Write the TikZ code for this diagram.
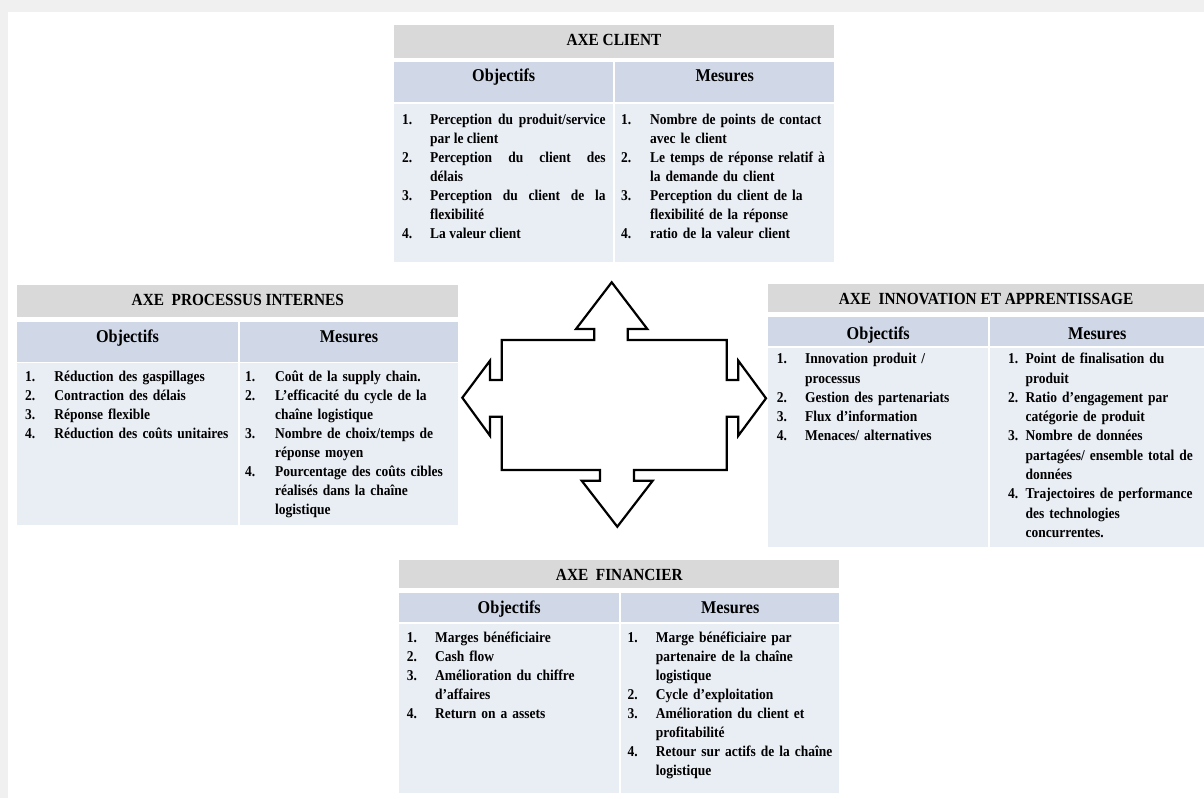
\documentclass[tikz,border=0pt]{standalone}
\usepackage{fontspec}
\usepackage{tikz}
\newfontfamily\pfont{Liberation Serif}[FakeStretch=0.9]
\definecolor{hdgray}{HTML}{D9D9D9}
\definecolor{subblue}{HTML}{D0D8E8}
\definecolor{bodyblue}{HTML}{E9EDF4}
\newcommand{\itm}[3][28.5pt]{\hangindent=#1\hangafter=1\noindent\strut\makebox[#1][l]{#2}#3\par}
\tikzset{
  cell/.style={anchor=north west, inner sep=0pt, outer sep=0pt},
  cellhd/.style={cell, fill=hdgray},
  cellsub/.style={cell, fill=subblue},
  cellbody/.style={cell, fill=bodyblue},
  hdtxt/.style={anchor=base, inner sep=0pt, font=\pfont\bfseries\fontsize{17}{20}\selectfont},
  subtxt/.style={anchor=base, inner sep=0pt, font=\pfont\bfseries\fontsize{18}{21}\selectfont},
  itemtxt/.style={anchor=north west, inner sep=0pt, align=left, text width=205pt,
    font=\pfont\bfseries\fontsize{15}{19}\selectfont},
}

\begin{document}
\begin{tikzpicture}[x=1pt,y=-1pt]
  \useasboundingbox (0,0) rectangle (1204,798);
  \fill[black!6] (0,0) rectangle (1204,798);
  \fill[white] (8,12) rectangle (1204,798);

  \node[cellhd, minimum width=440pt, minimum height=32.7pt] (hc) at (394,25) {};
  \node[cellsub, minimum width=219.3pt, minimum height=40.6pt] (oc) at (394,61.7) {};
  \node[cellsub, minimum width=218.7pt, minimum height=40.6pt] (mc) at (615.3,61.7) {};
  \node[cellbody, minimum width=219.3pt, minimum height=158.8pt] (bc1) at (394,103.5) {};
  \node[cellbody, minimum width=218.7pt, minimum height=158.8pt] (bc2) at (615.3,103.5) {};
  \node[hdtxt] (thc) at (614,45.5) {AXE CLIENT};
  \node[subtxt] (toc) at (503.7,81.7) {Objectifs};
  \node[subtxt] (tmc) at (724.7,81.7) {Mesures};
  \node[itemtxt, align=justify, text width=203.5pt] (lc) at (402,110.7) {%
    \itm[28pt]{1.}{Perception du produit/service\linebreak par le client}
    \itm[28pt]{2.}{Perception du client des\linebreak délais}
    \itm[28pt]{3.}{Perception du client de la\linebreak flexibilité}
    \itm[28pt]{4.}{La valeur client}};
  \node[itemtxt] (rc) at (621,110.7) {%
    \itm[29pt]{1.}{Nombre de points de contact\newline avec le client}
    \itm[29pt]{2.}{Le temps de réponse relatif à\newline la demande du client}
    \itm[29pt]{3.}{Perception du client de la\newline flexibilité de la réponse}
    \itm[29pt]{4.}{ratio de la valeur client}};

  \node[cellhd, minimum width=441pt, minimum height=32pt] (hp) at (17.3,284.7) {};
  \node[cellsub, minimum width=220.4pt, minimum height=40pt] (op) at (17.3,321.7) {};
  \node[cellsub, minimum width=218.6pt, minimum height=40pt] (mp) at (239.7,321.7) {};
  \node[cellbody, minimum width=220.4pt, minimum height=162pt] (bp1) at (17.3,363) {};
  \node[cellbody, minimum width=218.6pt, minimum height=162pt] (bp2) at (239.7,363) {};
  \node[hdtxt] (thp) at (237.8,305.2) {AXE\ \ PROCESSUS INTERNES};
  \node[subtxt] (top) at (127.5,342.7) {Objectifs};
  \node[subtxt] (tmp) at (349,342.7) {Mesures};
  \node[itemtxt] (lp) at (25,368.4) {%
    \itm[29.3pt]{1.}{Réduction des gaspillages}
    \itm[29.3pt]{2.}{Contraction des délais}
    \itm[29.3pt]{3.}{Réponse flexible}
    \itm[29.3pt]{4.}{Réduction des coûts unitaires}};
  \node[itemtxt] (rp) at (245,368.4) {%
    \itm[30pt]{1.}{Coût de la supply chain.}
    \itm[30pt]{2.}{L’efficacité du cycle de la\newline chaîne logistique}
    \itm[30pt]{3.}{Nombre de choix/temps de\newline réponse moyen}
    \itm[30pt]{4.}{Pourcentage des coûts cibles\newline réalisés dans la chaîne\newline logistique}};

  \node[cellhd, minimum width=436pt, minimum height=28.3pt] (hi) at (768,284) {};
  \node[cellsub, minimum width=220.3pt, minimum height=29.3pt] (oi) at (768,316.7) {};
  \node[cellsub, minimum width=213.7pt, minimum height=29.3pt] (mi) at (990.3,316.7) {};
  \node[cellbody, minimum width=220.3pt, minimum height=199.2pt] (bi1) at (768,347.5) {};
  \node[cellbody, minimum width=213.7pt, minimum height=199.2pt] (bi2) at (990.3,347.5) {};
  \node[hdtxt] (thi) at (986,304.5) {AXE\ \ INNOVATION ET APPRENTISSAGE};
  \node[subtxt] (toi) at (878.2,339) {Objectifs};
  \node[subtxt] (tmi) at (1097.2,339) {Mesures};
  \node[itemtxt, font=\pfont\bfseries\fontsize{15}{19.3}\selectfont] (li) at (776.7,350) {%
    \itm[28.3pt]{1.}{Innovation produit /\newline processus}
    \itm[28.3pt]{2.}{Gestion des partenariats}
    \itm[28.3pt]{3.}{Flux d’information}
    \itm[28.3pt]{4.}{Menaces/ alternatives}};
  \node[itemtxt, text width=192pt, font=\pfont\bfseries\fontsize{15}{19.3}\selectfont] (ri) at (1008,350) {%
    \itm[17.5pt]{1.}{Point de finalisation du\newline produit}
    \itm[17.5pt]{2.}{Ratio d’engagement par\newline catégorie de produit}
    \itm[17.5pt]{3.}{Nombre de données\newline partagées/ ensemble total de\newline données}
    \itm[17.5pt]{4.}{Trajectoires de performance\newline des technologies\newline concurrentes.}};

  \node[cellhd, minimum width=440pt, minimum height=28.3pt] (hf) at (399.3,560) {};
  \node[cellsub, minimum width=219.7pt, minimum height=29.6pt] (of) at (399.3,592.7) {};
  \node[cellsub, minimum width=218.3pt, minimum height=29.6pt] (mf) at (621,592.7) {};
  \node[cellbody, minimum width=219.7pt, minimum height=169.8pt] (bf1) at (399.3,623.5) {};
  \node[cellbody, minimum width=218.3pt, minimum height=169.8pt] (bf2) at (621,623.5) {};
  \node[hdtxt] (thf) at (619.3,580.7) {AXE\ \ FINANCIER};
  \node[subtxt] (tof) at (509.2,613.3) {Objectifs};
  \node[subtxt] (tmf) at (730.2,613.3) {Mesures};
  \node[itemtxt] (lf) at (406.7,629) {%
    \itm[28.3pt]{1.}{Marges bénéficiaire}
    \itm[28.3pt]{2.}{Cash flow}
    \itm[28.3pt]{3.}{Amélioration du chiffre\newline d’affaires}
    \itm[28.3pt]{4.}{Return on a assets}};
  \node[itemtxt] (rf) at (627.3,629) {%
    \itm[28.4pt]{1.}{Marge bénéficiaire par\newline partenaire de la chaîne\newline logistique}
    \itm[28.4pt]{2.}{Cycle d’exploitation}
    \itm[28.4pt]{3.}{Amélioration du client et\newline profitabilité}
    \itm[28.4pt]{4.}{Retour sur actifs de la chaîne\newline logistique}};

  \draw[line width=2.2pt, fill=white] (501.7,340) -- (594.3,340) -- (594.3,329) -- (576,329)
    -- (611.7,282.3) -- (647.3,329) -- (627.7,329) -- (627.7,340) -- (726.7,340)
    -- (726.7,380) -- (738.3,380) -- (738.3,360.7) -- (766,398.3) -- (738.3,435.7)
    -- (738.3,416.7) -- (726.7,416.7) -- (726.7,470) -- (634,470) -- (634,480.7)
    -- (652.7,480.7) -- (617.3,526.7) -- (581.7,480.7) -- (600,480.7) -- (600,470)
    -- (501.7,470) -- (501.7,416.7) -- (490,416.7) -- (490,435.7) -- (462.3,397.7)
    -- (490,360.7) -- (490,380) -- (501.7,380) -- cycle;
\end{tikzpicture}
\end{document}
